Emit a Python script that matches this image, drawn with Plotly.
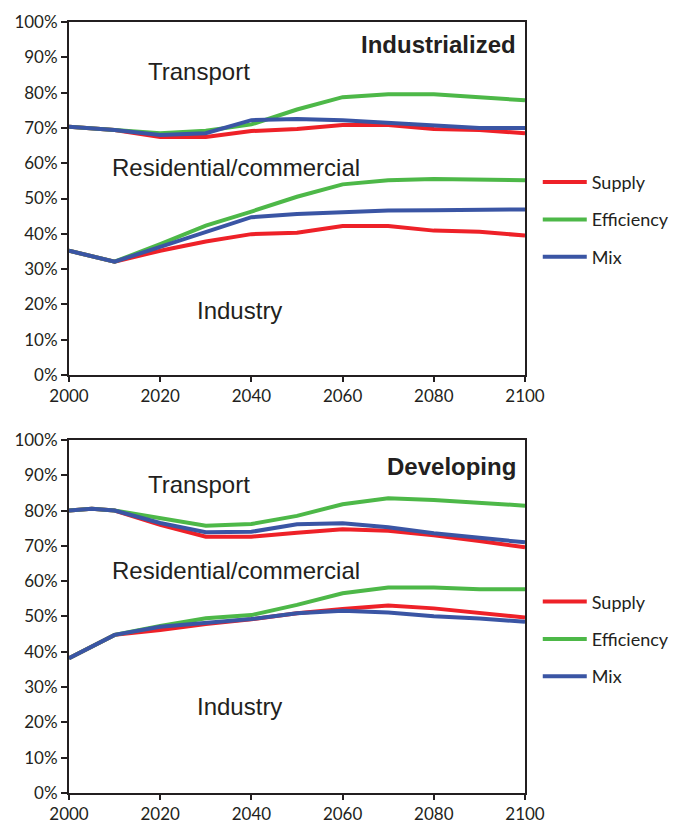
import plotly.graph_objects as go
from plotly.subplots import make_subplots

years = [2000, 2005, 2010, 2020, 2030, 2040, 2050, 2060, 2070, 2080, 2090, 2100]

# Industrialized: upper boundary (Residential/commercial | Transport)
ind_up_supply = [70.3, 69.9, 69.4, 67.4, 67.4, 69.1, 69.7, 70.8, 70.8, 69.7, 69.4, 68.5]
ind_up_eff    = [70.3, 69.9, 69.4, 68.5, 69.2, 71.0, 75.2, 78.7, 79.5, 79.5, 78.7, 77.8]
ind_up_mix    = [70.3, 69.9, 69.4, 68.0, 68.5, 72.2, 72.5, 72.2, 71.4, 70.8, 70.0, 70.0]
# Industrialized: lower boundary (Industry | Residential/commercial)
ind_lo_supply = [35.2, 33.7, 32.1, 35.2, 37.8, 39.9, 40.3, 42.2, 42.2, 40.9, 40.6, 39.5]
ind_lo_eff    = [35.2, 33.7, 32.1, 37.1, 42.3, 46.3, 50.5, 54.0, 55.2, 55.5, 55.4, 55.2]
ind_lo_mix    = [35.2, 33.7, 32.1, 36.3, 40.6, 44.7, 45.6, 46.2, 46.6, 46.7, 46.7, 46.9]

# Developing: upper boundary
dev_up_supply = [80.0, 80.5, 80.0, 76.0, 72.6, 72.6, 73.7, 74.7, 74.3, 73.0, 71.4, 69.6]
dev_up_eff    = [80.0, 80.5, 80.0, 77.8, 75.7, 76.2, 78.5, 81.8, 83.5, 83.0, 82.2, 81.4]
dev_up_mix    = [80.0, 80.5, 80.0, 76.5, 73.9, 74.0, 76.1, 76.4, 75.3, 73.6, 72.3, 71.0]
# Developing: lower boundary
dev_lo_supply = [38.2, 41.6, 44.8, 46.2, 47.9, 49.2, 50.9, 52.1, 53.1, 52.3, 51.1, 49.7]
dev_lo_eff    = [38.2, 41.6, 44.8, 47.3, 49.5, 50.4, 53.3, 56.6, 58.2, 58.2, 57.7, 57.7]
dev_lo_mix    = [38.2, 41.6, 44.8, 47.1, 48.3, 49.3, 50.9, 51.6, 51.1, 50.1, 49.4, 48.5]

scenarios = ["Supply", "Efficiency", "Mix"]
colors = {"Supply": "#EE2128", "Efficiency": "#4DB848", "Mix": "#3A55A4"}

panels = [
    ("Industrialized", {"Supply": (ind_up_supply, ind_lo_supply),
                        "Efficiency": (ind_up_eff, ind_lo_eff),
                        "Mix": (ind_up_mix, ind_lo_mix)}),
    ("Developing", {"Supply": (dev_up_supply, dev_lo_supply),
                    "Efficiency": (dev_up_eff, dev_lo_eff),
                    "Mix": (dev_up_mix, dev_lo_mix)}),
]

sector_labels = [
    ("Transport", 2028.5),
    ("Residential/commercial", 2036.6),
    ("Industry", 2037.3),
]
label_y = {
    "Industrialized": [86.1, 58.9, 18.4],
    "Developing": [87.5, 62.9, 24.4],
}
title_y = {"Industrialized": 93.6, "Developing": 92.6}

fig = make_subplots(rows=2, cols=1, vertical_spacing=0.0843)

for i, (pname, data) in enumerate(panels):
    row = i + 1
    legend_name = "legend" if i == 0 else "legend2"
    for s in scenarios:
        up, lo = data[s]
        fig.add_trace(go.Scatter(
            x=years, y=up, mode="lines", name=s,
            line=dict(color=colors[s], width=4),
            legend=legend_name, legendgroup=f"{pname}-{s}",
            showlegend=True,
        ), row=row, col=1)
        fig.add_trace(go.Scatter(
            x=years, y=lo, mode="lines", name=s,
            line=dict(color=colors[s], width=4),
            legend=legend_name, legendgroup=f"{pname}-{s}",
            showlegend=False,
        ), row=row, col=1)
    xref = "x" if row == 1 else "x2"
    yref = "y" if row == 1 else "y2"
    for (txt, xx), yy in zip(sector_labels, label_y[pname]):
        fig.add_annotation(x=xx, y=yy, xref=xref, yref=yref, text=txt,
                           showarrow=False,
                           font=dict(family="Liberation Sans, Arial", size=24, color="#231F20"))
    fig.add_annotation(x=2098.5, y=title_y[pname], xref=xref, yref=yref,
                       text=f"<b>{pname}</b>", showarrow=False, xanchor="right",
                       font=dict(family="Liberation Sans, Arial", size=24, color="#231F20"))

for r in [1, 2]:
    fig.update_xaxes(range=[2000, 2100], tickvals=[2000, 2020, 2040, 2060, 2080, 2100],
                     ticks="outside", ticklen=5, tickwidth=2, tickcolor="#231F20",
                     showline=True, linecolor="#231F20", linewidth=2, mirror=True,
                     showgrid=False, zeroline=False, automargin=False,
                     tickfont=dict(family="Lato, Open Sans", size=17, color="#231F20"),
                     row=r, col=1)
    fig.update_yaxes(range=[0, 100], dtick=10, ticksuffix="%",
                     ticks="outside", ticklen=6, tickwidth=2, tickcolor="#231F20",
                     showline=True, linecolor="#231F20", linewidth=2, mirror=True,
                     showgrid=False, zeroline=False, automargin=False,
                     tickfont=dict(family="Lato, Open Sans", size=17, color="#231F20"),
                     row=r, col=1)

legend_style = dict(
    font=dict(family="Lato, Open Sans", size=18, color="#231F20"),
    bgcolor="rgba(0,0,0,0)", tracegroupgap=11, itemwidth=44,
    xanchor="left", yanchor="top",
)
fig.update_layout(
    width=679, height=815,
    margin=dict(l=61, r=159, t=14, b=30),
    paper_bgcolor="white", plot_bgcolor="white",
    legend=dict(x=1.028, y=0.816, **legend_style),
    legend2=dict(x=1.028, y=0.272, **legend_style),
)

fig.write_html("out.html")
